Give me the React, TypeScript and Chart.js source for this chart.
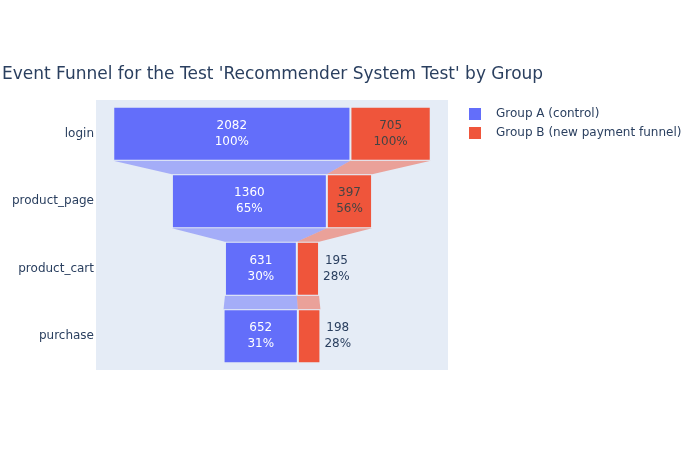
import React, { useEffect, useRef } from "react";
import { Chart, registerables } from "chart.js";
Chart.register(...registerables);

const stages = ["login", "product_page", "product_cart", "purchase"];
const groupA = [2082, 1360, 631, 652];
const groupB = [705, 397, 195, 198];
const seriesNames = ["Group A (control)", "Group B (new payment funnel)"];
const titleText = "Event Funnel for the Test 'Recommender System Test' by Group";

const colorA = "#636efa";
const colorB = "#ef553b";
const connA = "rgba(99,110,250,0.5)";
const connB = "rgba(239,85,59,0.5)";
const textDark = "#2a3f5f";
const FONT = "'DejaVu Sans', Verdana, sans-serif";

export default function App() {
  const ref = useRef<HTMLCanvasElement | null>(null);
  useEffect(() => {
    if (!ref.current) return;
    const totals = stages.map((_, i) => groupA[i] + groupB[i]);
    const rangesA = stages.map((_, i) => [-totals[i] / 2, -totals[i] / 2 + groupA[i]]);
    const rangesB = stages.map((_, i) => [-totals[i] / 2 + groupA[i], totals[i] / 2]);
    const series = [groupA, groupB];

    const funnelPlugin = {
      id: "funnel",
      beforeDraw(chart: any) {
        const { ctx, chartArea } = chart;
        ctx.save();
        ctx.fillStyle = "#ffffff";
        ctx.fillRect(0, 0, chart.width, chart.height);
        ctx.fillStyle = "#E5ECF6";
        ctx.fillRect(chartArea.left, chartArea.top, chartArea.right - chartArea.left, chartArea.bottom - chartArea.top);
        // title
        ctx.fillStyle = textDark;
        ctx.font = `17px ${FONT}`;
        ctx.textAlign = "left";
        ctx.textBaseline = "alphabetic";
        ctx.fillText(titleText, 2, 79);
        // legend
        const cols = [colorA, colorB];
        ctx.font = `12px ${FONT}`;
        ctx.textBaseline = "middle";
        seriesNames.forEach((n, k) => {
          const cy = 114 + k * 19;
          ctx.fillStyle = cols[k];
          ctx.fillRect(469, cy - 6, 12, 12);
          ctx.fillStyle = textDark;
          ctx.fillText(n, 496, cy);
        });
        ctx.restore();
      },
      beforeDatasetsDraw(chart: any) {
        const { ctx } = chart;
        const cols = [connA, connB];
        ctx.save();
        [0, 1].forEach((d) => {
          const meta = chart.getDatasetMeta(d);
          for (let i = 0; i < stages.length - 1; i++) {
            const e0 = meta.data[i].getProps(["x", "base", "y", "height"], true);
            const e1 = meta.data[i + 1].getProps(["x", "base", "y", "height"], true);
            const top = e0.y + e0.height / 2;
            const bot = e1.y - e1.height / 2;
            ctx.beginPath();
            ctx.moveTo(Math.min(e0.x, e0.base), top);
            ctx.lineTo(Math.max(e0.x, e0.base), top);
            ctx.lineTo(Math.max(e1.x, e1.base), bot);
            ctx.lineTo(Math.min(e1.x, e1.base), bot);
            ctx.closePath();
            ctx.fillStyle = cols[d];
            ctx.fill();
          }
        });
        ctx.restore();
      },
      afterDatasetsDraw(chart: any) {
        const { ctx } = chart;
        ctx.save();
        ctx.font = `12px ${FONT}`;
        ctx.textBaseline = "middle";
        [0, 1].forEach((d) => {
          const meta = chart.getDatasetMeta(d);
          const vals = series[d];
          for (let i = 0; i < stages.length; i++) {
            const e = meta.data[i].getProps(["x", "base", "y", "height"], true);
            const l = Math.min(e.x, e.base);
            const r = Math.max(e.x, e.base);
            const line1 = String(vals[i]);
            const line2 = Math.round((vals[i] / vals[0]) * 100) + "%";
            const tw = Math.max(ctx.measureText(line1).width, ctx.measureText(line2).width);
            ctx.textAlign = "center";
            if (tw + 6 < r - l) {
              ctx.fillStyle = d === 0 ? "#ffffff" : "#444444";
              ctx.fillText(line1, (l + r) / 2, e.y - 8);
              ctx.fillText(line2, (l + r) / 2, e.y + 8);
            } else {
              ctx.fillStyle = textDark;
              const cx = r + 4 + tw / 2;
              ctx.fillText(line1, cx, e.y - 8);
              ctx.fillText(line2, cx, e.y + 8);
            }
          }
        });
        ctx.restore();
      },
    };

    const chart = new Chart(ref.current, {
      type: "bar",
      data: {
        labels: stages,
        datasets: [
          {
            label: seriesNames[0],
            data: rangesA as any,
            backgroundColor: colorA,
            borderColor: "rgba(229,236,246,0.6)",
            borderWidth: 1,
            borderSkipped: false,
            grouped: false,
            barPercentage: 0.8,
            categoryPercentage: 1,
          },
          {
            label: seriesNames[1],
            data: rangesB as any,
            backgroundColor: colorB,
            borderColor: "rgba(229,236,246,0.6)",
            borderWidth: 1,
            borderSkipped: false,
            grouped: false,
            barPercentage: 0.8,
            categoryPercentage: 1,
          },
        ],
      },
      options: {
        indexAxis: "y",
        responsive: false,
        animation: false,
        layout: { padding: { left: 0, right: 252, top: 100, bottom: 80 } },
        plugins: {
          legend: { display: false },
          title: { display: false },
          tooltip: { enabled: false },
        },
        scales: {
          x: {
            type: "linear",
            min: -1545,
            max: 1545,
            display: false,
          },
          y: {
            type: "category",
            offset: true,
            grid: { display: false, drawTicks: false },
            border: { display: false },
            ticks: { color: textDark, font: { family: FONT, size: 12 }, padding: 2 },
            afterFit(scale: any) {
              scale.width = 96;
            },
          },
        },
      } as any,
      plugins: [funnelPlugin],
    });
    return () => chart.destroy();
  }, []);
  return (
    <div style={{ position: "absolute", left: 0, top: 0, width: 700, height: 450 }}>
      <canvas ref={ref} width={700} height={450} />
    </div>
  );
}
